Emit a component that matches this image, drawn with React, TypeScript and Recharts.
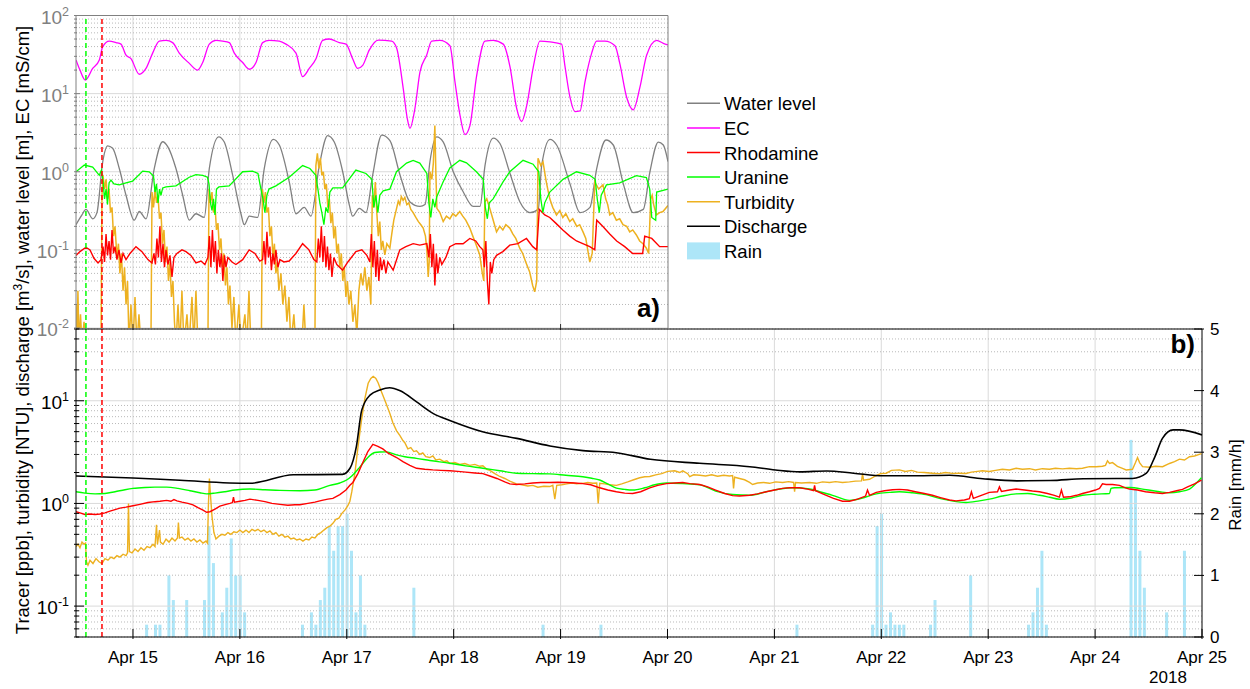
import React from "react";
import { ComposedChart, LineChart, Line, Bar, XAxis, YAxis, ReferenceLine } from "recharts";

const FONT = '"Liberation Sans", Arial, Helvetica, sans-serif';

type Pt = [number, number];

// ---------- axes ----------
const dayTicksA = [15, 16, 17, 18, 19];
const dayTicksB = [15, 16, 17, 18, 19, 20, 21, 22, 23, 24, 25];
const dayLabelsB = ["Apr 15", "Apr 16", "Apr 17", "Apr 18", "Apr 19", "Apr 20", "Apr 21", "Apr 22", "Apr 23", "Apr 24", "Apr 25"];
const gridDaysB = [15, 16, 17, 18, 19, 20, 21, 22, 23, 24];
const logMajorA = [0.01, 0.1, 1, 10, 100];
const logExpA = ["-2", "-1", "0", "1", "2"];
const logMinorA = [0.02, 0.03, 0.04, 0.05, 0.06, 0.07, 0.08, 0.09, 0.2, 0.3, 0.4, 0.5, 0.6, 0.7, 0.8, 0.9, 2, 3, 4, 5, 6, 7, 8, 9, 20, 30, 40, 50, 60, 70, 80, 90];
const logMajorB = [0.1, 1, 10];
const logExpB = ["-1", "0", "1"];
const logMinorB = [0.05, 0.06, 0.07, 0.08, 0.09, 0.2, 0.3, 0.4, 0.5, 0.6, 0.7, 0.8, 0.9, 2, 3, 4, 5, 6, 7, 8, 9, 20, 30, 40, 50];
const rainTicks = [0, 1, 2, 3, 4, 5];
const uranineInjection = 14.56;
const rhodamineInjection = 14.71;

// ---------- panel a ----------
const waterLevelA: Pt[] = [
  [14.467, 0.21], [14.523, 0.28], [14.56, 0.33], [14.623, 0.25], [14.663, 0.3], [14.717, 1.34], [14.763, 2.15], [14.81, 2.0],
  [14.872, 1.1], [14.935, 0.5], [15.012, 0.24], [15.059, 0.31], [15.122, 0.25], [15.199, 1.1], [15.278, 2.42], [15.325, 2.1],
  [15.402, 1.1], [15.465, 0.5], [15.527, 0.24], [15.589, 0.29], [15.667, 0.26], [15.714, 1.1], [15.802, 2.8], [15.854, 2.4],
  [15.933, 0.9], [16.01, 0.29], [16.041, 0.21], [16.088, 0.27], [16.166, 0.26], [16.228, 1.1], [16.312, 2.6], [16.369, 2.2],
  [16.462, 0.74], [16.525, 0.29], [16.602, 0.35], [16.665, 0.27], [16.743, 1.2], [16.821, 2.9], [16.883, 2.4], [16.962, 1.0],
  [17.023, 0.38], [17.055, 0.27], [17.117, 0.34], [17.18, 0.3], [17.242, 0.9], [17.327, 2.95], [17.404, 2.5], [17.498, 0.91],
  [17.591, 0.41], [17.685, 0.36], [17.732, 0.38], [17.778, 1.35], [17.841, 2.8], [17.903, 2.4], [17.996, 1.0], [18.09, 0.55],
  [18.183, 0.36], [18.246, 0.36], [18.293, 1.2], [18.37, 2.7], [18.433, 2.3], [18.527, 0.95], [18.62, 0.41], [18.714, 0.3],
  [18.791, 0.33], [18.823, 1.2], [18.901, 2.6], [18.963, 2.2], [19.088, 0.7], [19.182, 0.3], [19.275, 0.35], [19.338, 1.1],
  [19.425, 2.55], [19.493, 2.2], [19.587, 0.7], [19.68, 0.3], [19.774, 0.33], [19.836, 1.0], [19.914, 2.4], [19.961, 2.2], [20.005, 1.35],
];

const ecA: Pt[] = [
  [14.467, 27], [14.504, 20], [14.554, 14.9], [14.623, 21], [14.685, 27], [14.717, 40], [14.778, 47], [14.841, 45], [14.888, 43],
  [14.935, 31], [14.981, 28], [15.059, 17.7], [15.122, 21], [15.184, 33], [15.246, 47], [15.309, 48], [15.371, 45], [15.433, 33],
  [15.527, 24.4], [15.605, 20], [15.652, 25], [15.714, 43], [15.776, 48], [15.839, 47], [15.901, 45], [15.948, 33], [16.026, 25],
  [16.088, 20.5], [16.151, 25], [16.213, 45], [16.275, 48], [16.369, 47], [16.431, 43], [16.525, 33], [16.587, 16.5], [16.649, 21],
  [16.712, 28], [16.774, 48], [16.836, 50], [16.93, 45], [16.993, 43], [17.055, 28], [17.102, 21], [17.149, 23], [17.21, 36],
  [17.295, 48.5], [17.42, 47], [17.467, 38], [17.528, 11.7], [17.566, 4.8], [17.591, 3.6], [17.638, 6.5], [17.685, 19], [17.747, 31],
  [17.794, 47], [17.872, 48], [17.965, 41], [18.012, 14.2], [18.059, 5.3], [18.106, 3.0], [18.152, 3.9], [18.215, 17], [18.293, 47],
  [18.37, 48], [18.464, 43], [18.527, 22], [18.589, 6.5], [18.636, 4.4], [18.683, 7], [18.745, 22], [18.807, 47], [18.901, 46],
  [19.01, 43], [19.04, 23], [19.088, 9], [19.134, 5.9], [19.182, 6.0], [19.228, 14], [19.291, 33], [19.338, 47], [19.415, 47],
  [19.509, 41], [19.555, 24], [19.618, 9], [19.68, 6.2], [19.742, 12], [19.805, 31], [19.899, 48], [19.961, 44], [20.005, 42],
];

const rhodamineA: Pt[] = [
  [14.467, 0.085], [14.504, 0.095], [14.56, 0.108], [14.598, 0.1], [14.635, 0.078], [14.673, 0.068], [14.701, 0.075], [14.72, 0.11],
  [14.734, 0.07], [14.748, 0.16], [14.762, 0.085], [14.776, 0.13], [14.79, 0.075], [14.804, 0.18], [14.818, 0.09], [14.832, 0.11],
  [14.85, 0.075], [14.869, 0.1], [14.888, 0.068], [14.907, 0.09], [14.935, 0.075], [14.972, 0.09], [15.028, 0.11], [15.084, 0.095],
  [15.14, 0.075], [15.178, 0.068], [15.196, 0.09], [15.21, 0.065], [15.224, 0.14], [15.238, 0.08], [15.252, 0.2], [15.266, 0.07],
  [15.281, 0.12], [15.295, 0.06], [15.309, 0.1], [15.327, 0.065], [15.346, 0.085], [15.365, 0.045], [15.383, 0.08], [15.411, 0.09],
  [15.458, 0.1], [15.496, 0.095], [15.542, 0.085], [15.589, 0.068], [15.636, 0.072], [15.673, 0.065], [15.701, 0.08], [15.715, 0.15],
  [15.729, 0.06], [15.743, 0.18], [15.757, 0.07], [15.771, 0.13], [15.785, 0.05], [15.799, 0.1], [15.813, 0.06], [15.827, 0.09],
  [15.841, 0.04], [15.856, 0.085], [15.87, 0.06], [15.888, 0.08], [15.926, 0.07], [15.963, 0.065], [16.026, 0.075], [16.087, 0.1],
  [16.141, 0.09], [16.187, 0.072], [16.213, 0.075], [16.225, 0.13], [16.239, 0.065], [16.253, 0.17], [16.267, 0.08], [16.281, 0.11],
  [16.295, 0.055], [16.309, 0.09], [16.323, 0.065], [16.337, 0.1], [16.356, 0.06], [16.374, 0.075], [16.412, 0.07], [16.461, 0.072],
  [16.524, 0.09], [16.587, 0.12], [16.646, 0.1], [16.692, 0.075], [16.72, 0.07], [16.734, 0.14], [16.748, 0.08], [16.762, 0.2],
  [16.777, 0.07], [16.791, 0.15], [16.805, 0.06], [16.819, 0.11], [16.833, 0.055], [16.847, 0.09], [16.861, 0.045], [16.879, 0.08],
  [16.907, 0.065], [16.961, 0.055], [17.01, 0.07], [17.085, 0.095], [17.141, 0.1], [17.188, 0.085], [17.216, 0.07], [17.23, 0.16],
  [17.244, 0.06], [17.258, 0.13], [17.272, 0.045], [17.286, 0.1], [17.3, 0.04], [17.314, 0.08], [17.328, 0.055], [17.347, 0.075],
  [17.366, 0.05], [17.384, 0.07], [17.434, 0.055], [17.496, 0.1], [17.553, 0.11], [17.621, 0.12], [17.683, 0.115], [17.749, 0.12],
  [17.768, 0.08], [17.782, 0.16], [17.796, 0.06], [17.81, 0.12], [17.824, 0.035], [17.838, 0.09], [17.852, 0.05], [17.87, 0.08],
  [17.889, 0.065], [17.927, 0.08], [17.964, 0.11], [18.02, 0.12], [18.088, 0.12], [18.151, 0.14], [18.207, 0.13], [18.244, 0.11],
  [18.273, 0.1], [18.287, 0.06], [18.301, 0.13], [18.315, 0.04], [18.329, 0.02], [18.343, 0.07], [18.357, 0.05], [18.375, 0.075],
  [18.401, 0.085], [18.46, 0.095], [18.525, 0.115], [18.6, 0.12], [18.681, 0.14], [18.74, 0.11], [18.777, 0.1], [18.801, 0.33],
  [18.852, 0.28], [18.899, 0.26], [18.955, 0.22], [19.021, 0.18], [19.086, 0.15], [19.149, 0.13], [19.208, 0.12], [19.273, 0.11],
  [19.32, 0.1], [19.338, 0.24], [19.394, 0.2], [19.46, 0.16], [19.525, 0.13], [19.6, 0.11], [19.675, 0.09], [19.768, 0.09],
  [19.787, 0.15], [19.853, 0.14], [19.927, 0.11], [20.005, 0.11],
];

const uranineA: Pt[] = [
  [14.467, 1.0], [14.545, 1.22], [14.623, 1.15], [14.685, 0.9], [14.705, 1.05], [14.72, 0.75], [14.734, 0.45], [14.748, 0.6],
  [14.762, 0.38], [14.776, 0.72], [14.794, 0.78], [14.822, 0.7], [14.872, 0.68], [14.935, 0.72], [14.997, 0.76], [15.091, 1.02],
  [15.152, 1.0], [15.192, 0.88], [15.206, 0.55], [15.22, 0.7], [15.234, 0.4], [15.248, 0.6], [15.262, 0.5], [15.278, 0.62],
  [15.309, 0.64], [15.402, 0.66], [15.526, 0.85], [15.589, 0.92], [15.652, 0.9], [15.697, 0.85], [15.711, 0.7], [15.725, 0.4],
  [15.739, 0.32], [15.753, 0.45], [15.767, 0.28], [15.781, 0.6], [15.804, 0.64], [15.9, 0.66], [16.026, 1.0], [16.119, 1.02],
  [16.169, 0.95], [16.197, 0.6], [16.216, 0.45], [16.234, 0.3], [16.253, 0.5], [16.272, 0.6], [16.337, 0.66], [16.461, 0.85],
  [16.587, 1.2], [16.655, 1.1], [16.711, 0.9], [16.73, 0.6], [16.748, 0.4], [16.767, 0.3], [16.786, 0.21], [16.805, 0.35],
  [16.823, 0.3], [16.842, 0.55], [16.87, 0.62], [16.961, 0.62], [17.085, 1.05], [17.179, 0.95], [17.235, 0.8], [17.253, 0.35],
  [17.272, 0.5], [17.291, 0.3], [17.309, 0.5], [17.34, 0.57], [17.403, 0.6], [17.465, 1.0], [17.559, 1.29], [17.621, 1.4],
  [17.683, 1.29], [17.749, 0.95], [17.768, 0.4], [17.786, 0.26], [17.805, 0.45], [17.824, 0.35], [17.842, 0.48], [17.901, 0.74],
  [17.964, 1.12], [18.057, 1.4], [18.12, 1.3], [18.213, 1.0], [18.277, 0.8], [18.296, 0.35], [18.315, 0.25], [18.333, 0.4],
  [18.369, 0.45], [18.462, 0.74], [18.525, 1.0], [18.649, 1.4], [18.743, 1.25], [18.796, 1.0], [18.815, 0.45], [18.834, 0.3],
  [18.852, 0.4], [18.899, 0.55], [19.023, 0.8], [19.149, 1.0], [19.273, 0.9], [19.324, 0.8], [19.343, 0.45], [19.362, 0.3],
  [19.38, 0.5], [19.429, 0.68], [19.553, 0.72], [19.709, 0.89], [19.803, 0.84], [19.834, 0.6], [19.853, 0.26], [19.89, 0.24],
  [19.899, 0.55], [20.005, 0.6],
];

const turbidityA: Pt[] = [
  [14.467, 0.02], [14.476, 0.006], [14.485, 0.03], [14.495, 0.006], [14.509, 0.015], [14.523, 0.006], [14.542, 0.012], [14.56, 0.006],
  [14.701, 0.006], [14.71, 0.5], [14.72, 0.9], [14.734, 0.6], [14.748, 0.8], [14.762, 0.45], [14.776, 0.6], [14.79, 0.3],
  [14.804, 0.35], [14.818, 0.15], [14.832, 0.2], [14.85, 0.08], [14.864, 0.12], [14.878, 0.05], [14.892, 0.09], [14.907, 0.03],
  [14.921, 0.06], [14.935, 0.02], [14.949, 0.04], [14.963, 0.006], [14.981, 0.02], [15.0, 0.006], [15.019, 0.025], [15.037, 0.006],
  [15.056, 0.015], [15.075, 0.006], [15.168, 0.006], [15.178, 0.55], [15.192, 0.35], [15.206, 0.6], [15.22, 0.4], [15.234, 0.5],
  [15.248, 0.25], [15.262, 0.3], [15.276, 0.12], [15.29, 0.18], [15.304, 0.07], [15.318, 0.11], [15.332, 0.04], [15.346, 0.07],
  [15.36, 0.025], [15.374, 0.04], [15.388, 0.012], [15.402, 0.006], [15.421, 0.02], [15.439, 0.006], [15.458, 0.03], [15.477, 0.006],
  [15.505, 0.015], [15.524, 0.006], [15.552, 0.025], [15.57, 0.006], [15.589, 0.03], [15.608, 0.006], [15.701, 0.006], [15.711, 0.6],
  [15.725, 0.4], [15.739, 0.55], [15.753, 0.3], [15.767, 0.38], [15.781, 0.18], [15.795, 0.22], [15.809, 0.1], [15.823, 0.14],
  [15.837, 0.06], [15.851, 0.09], [15.865, 0.035], [15.879, 0.06], [15.893, 0.02], [15.907, 0.035], [15.926, 0.01], [15.944, 0.025],
  [15.963, 0.006], [15.991, 0.02], [16.01, 0.006], [16.047, 0.015], [16.066, 0.006], [16.085, 0.03], [16.103, 0.006], [16.201, 0.006],
  [16.211, 0.6], [16.225, 0.4], [16.239, 0.55], [16.253, 0.3], [16.267, 0.35], [16.281, 0.15], [16.295, 0.2], [16.309, 0.08],
  [16.323, 0.12], [16.337, 0.05], [16.351, 0.07], [16.365, 0.03], [16.384, 0.05], [16.402, 0.02], [16.421, 0.035], [16.44, 0.012],
  [16.459, 0.025], [16.477, 0.006], [16.505, 0.015], [16.524, 0.006], [16.58, 0.006], [16.599, 0.02], [16.618, 0.006], [16.702, 0.006],
  [16.711, 1.2], [16.725, 1.72], [16.739, 1.1], [16.753, 1.5], [16.767, 0.9], [16.781, 1.0], [16.795, 0.6], [16.809, 0.7],
  [16.823, 0.35], [16.837, 0.45], [16.851, 0.22], [16.865, 0.3], [16.879, 0.14], [16.893, 0.2], [16.907, 0.09], [16.921, 0.12],
  [16.935, 0.06], [16.949, 0.09], [16.963, 0.04], [16.977, 0.06], [16.992, 0.025], [17.006, 0.04], [17.02, 0.02], [17.038, 0.03],
  [17.057, 0.012], [17.076, 0.02], [17.094, 0.008], [17.113, 0.03], [17.132, 0.05], [17.15, 0.035], [17.169, 0.06], [17.188, 0.03],
  [17.207, 0.045], [17.225, 0.02], [17.239, 0.5], [17.253, 0.35], [17.267, 0.74], [17.281, 0.3], [17.295, 0.15], [17.309, 0.23],
  [17.323, 0.1], [17.337, 0.13], [17.356, 0.086], [17.375, 0.12], [17.403, 0.105], [17.421, 0.16], [17.44, 0.24], [17.466, 0.34],
  [17.482, 0.42], [17.496, 0.38], [17.51, 0.48], [17.527, 0.43], [17.543, 0.47], [17.562, 0.38], [17.58, 0.4], [17.599, 0.33],
  [17.621, 0.3], [17.646, 0.26], [17.67, 0.23], [17.693, 0.21], [17.715, 0.19], [17.736, 0.15], [17.749, 0.1], [17.762, 0.045],
  [17.771, 0.07], [17.778, 1.0], [17.796, 0.8], [17.81, 1.3], [17.824, 3.9], [17.834, 0.9], [17.843, 0.34], [17.871, 0.3],
  [17.902, 0.23], [17.932, 0.27], [17.964, 0.25], [17.992, 0.29], [18.02, 0.27], [18.057, 0.31], [18.085, 0.27], [18.113, 0.24],
  [18.151, 0.19], [18.179, 0.15], [18.207, 0.12], [18.244, 0.086], [18.268, 0.05], [18.282, 0.04], [18.291, 0.41], [18.31, 0.45],
  [18.338, 0.34], [18.366, 0.25], [18.401, 0.17], [18.431, 0.2], [18.46, 0.18], [18.488, 0.21], [18.525, 0.19], [18.553, 0.16],
  [18.581, 0.14], [18.618, 0.105], [18.646, 0.09], [18.674, 0.07], [18.711, 0.052], [18.739, 0.035], [18.758, 0.029], [18.777, 0.04],
  [18.789, 1.49], [18.815, 1.2], [18.836, 1.34], [18.862, 0.8], [18.88, 0.6], [18.899, 0.45], [18.927, 0.35], [18.962, 0.28],
  [18.993, 0.32], [19.021, 0.26], [19.049, 0.29], [19.086, 0.23], [19.114, 0.25], [19.152, 0.2], [19.179, 0.21], [19.21, 0.17],
  [19.236, 0.14], [19.254, 0.1], [19.273, 0.07], [19.296, 0.09], [19.32, 0.74], [19.357, 0.6], [19.397, 0.68], [19.422, 0.45],
  [19.441, 0.38], [19.46, 0.28], [19.488, 0.3], [19.522, 0.24], [19.553, 0.25], [19.584, 0.21], [19.619, 0.2], [19.647, 0.17],
  [19.675, 0.18], [19.709, 0.155], [19.74, 0.13], [19.771, 0.12], [19.803, 0.105], [19.824, 0.09], [19.843, 0.45], [19.857, 0.5],
  [19.871, 0.38], [19.896, 0.28], [19.927, 0.3], [19.958, 0.31], [20.005, 0.37],
];

// ---------- panel b ----------
const dischargeB: Pt[] = [
  [14.467, 1.85], [15.0, 1.77], [15.44, 1.68], [16.09, 1.57], [16.5, 1.9], [16.96, 1.92], [17.03, 2.2], [17.09, 3.6], [17.14, 8.1],
  [17.22, 11.4], [17.31, 12.7], [17.4, 13.4], [17.5, 12.5], [17.65, 9.8], [17.81, 7.5], [17.97, 6.4], [18.27, 5.0], [18.59, 4.3],
  [18.9, 3.63], [19.21, 3.27], [19.52, 3.12], [19.84, 2.69], [20.3, 2.46], [20.77, 2.28], [21.01, 2.12], [21.24, 2.03], [21.49, 2.07],
  [21.74, 1.97], [22.02, 1.86], [22.33, 1.86], [22.64, 1.88], [22.95, 1.74], [23.27, 1.66], [23.58, 1.67], [23.89, 1.74],
  [24.2, 1.75], [24.35, 1.75], [24.48, 1.97], [24.56, 2.86], [24.63, 4.3], [24.73, 5.2], [24.79, 5.2], [25.0, 4.65],
];

const uranineB: Pt[] = [
  [14.467, 1.3], [14.551, 1.26], [14.645, 1.24], [14.738, 1.25], [14.832, 1.3], [14.925, 1.36], [15.0, 1.4], [15.112, 1.43],
  [15.206, 1.44], [15.315, 1.44], [15.421, 1.4], [15.533, 1.33], [15.626, 1.27], [15.689, 1.24], [15.767, 1.26], [15.86, 1.3],
  [15.954, 1.35], [16.094, 1.38], [16.234, 1.36], [16.374, 1.34], [16.561, 1.33], [16.702, 1.35], [16.842, 1.5], [16.935, 1.58],
  [16.998, 1.69], [17.047, 1.85], [17.104, 2.15], [17.15, 2.46], [17.197, 2.8], [17.262, 3.13], [17.309, 3.17], [17.372, 3.18],
  [17.466, 2.97], [17.543, 2.85], [17.652, 2.75], [17.777, 2.62], [17.964, 2.46], [18.113, 2.32], [18.273, 2.2], [18.431, 2.08],
  [18.587, 1.97], [18.74, 1.95], [18.899, 1.94], [19.049, 1.88], [19.208, 1.82], [19.292, 1.76], [19.366, 1.69], [19.441, 1.55],
  [19.522, 1.41], [19.6, 1.37], [19.675, 1.35], [19.787, 1.42], [19.881, 1.52], [19.99, 1.58], [20.143, 1.56], [20.301, 1.52],
  [20.45, 1.32], [20.609, 1.22], [20.768, 1.2], [20.924, 1.3], [21.049, 1.38], [21.17, 1.42], [21.329, 1.38], [21.423, 1.3],
  [21.544, 1.2], [21.703, 1.07], [21.815, 1.12], [21.953, 1.24], [22.077, 1.28], [22.17, 1.3], [22.291, 1.27], [22.419, 1.22],
  [22.543, 1.12], [22.637, 1.07], [22.793, 1.02], [22.918, 1.06], [23.011, 1.1], [23.133, 1.18], [23.261, 1.24], [23.367, 1.25],
  [23.479, 1.2], [23.573, 1.15], [23.666, 1.1], [23.778, 1.13], [23.882, 1.2], [23.994, 1.23], [24.135, 1.25], [24.149, 1.4],
  [24.182, 1.42], [24.322, 1.43], [24.478, 1.36], [24.603, 1.3], [24.696, 1.27], [24.79, 1.3], [24.883, 1.38], [24.939, 1.55], [24.995, 1.78],
];

const rhodamineB: Pt[] = [
  [14.467, 0.83], [14.504, 0.81], [14.551, 0.78], [14.598, 0.79], [14.645, 0.78], [14.691, 0.79], [14.738, 0.81], [14.785, 0.84],
  [14.832, 0.87], [14.878, 0.9], [14.935, 0.92], [15.0, 0.95], [15.065, 0.98], [15.14, 1.02], [15.206, 1.04], [15.252, 1.05],
  [15.315, 1.07], [15.355, 1.05], [15.383, 1.09], [15.411, 1.06], [15.458, 1.03], [15.514, 1.0], [15.561, 0.97], [15.608, 0.91],
  [15.655, 0.86], [15.689, 0.82], [15.72, 0.83], [15.767, 0.88], [15.813, 0.94], [15.87, 0.98], [15.907, 1.0], [15.93, 1.02],
  [15.94, 1.15], [15.949, 1.03], [16.0, 1.05], [16.047, 1.07], [16.094, 1.1], [16.169, 1.07], [16.234, 1.04], [16.3, 1.0],
  [16.374, 0.98], [16.449, 0.96], [16.515, 0.97], [16.561, 0.97], [16.636, 1.0], [16.702, 1.03], [16.767, 1.07], [16.823, 1.1],
  [16.87, 1.12], [16.935, 1.22], [16.992, 1.35], [17.029, 1.5], [17.057, 1.6], [17.104, 1.95], [17.15, 2.5], [17.197, 3.2],
  [17.244, 3.76], [17.291, 3.6], [17.337, 3.4], [17.384, 3.1], [17.422, 2.95], [17.466, 2.8], [17.525, 2.55], [17.59, 2.35],
  [17.652, 2.2], [17.73, 2.15], [17.805, 2.12], [17.88, 2.1], [17.964, 2.08], [18.039, 2.05], [18.113, 2.02], [18.198, 1.98],
  [18.273, 1.95], [18.338, 1.85], [18.404, 1.75], [18.478, 1.62], [18.525, 1.55], [18.587, 1.53], [18.665, 1.55], [18.74, 1.58],
  [18.815, 1.6], [18.899, 1.6], [18.974, 1.61], [19.049, 1.6], [19.133, 1.58], [19.208, 1.56], [19.282, 1.52], [19.366, 1.42],
  [19.441, 1.35], [19.522, 1.3], [19.6, 1.26], [19.675, 1.25], [19.749, 1.3], [19.834, 1.42], [19.909, 1.5], [19.99, 1.56],
  [20.068, 1.58], [20.143, 1.6], [20.208, 1.56], [20.301, 1.53], [20.376, 1.45], [20.45, 1.35], [20.535, 1.25], [20.609, 1.19],
  [20.674, 1.18], [20.768, 1.2], [20.843, 1.24], [20.924, 1.3], [21.002, 1.35], [21.077, 1.4], [21.142, 1.42], [21.236, 1.42],
  [21.311, 1.38], [21.367, 1.33], [21.376, 1.5], [21.385, 1.33], [21.469, 1.22], [21.553, 1.12], [21.637, 1.05], [21.703, 1.05],
  [21.778, 1.1], [21.853, 1.18], [21.871, 1.35], [21.89, 1.2], [21.953, 1.28], [22.03, 1.33], [22.105, 1.36], [22.17, 1.37],
  [22.245, 1.35], [22.319, 1.3], [22.403, 1.25], [22.478, 1.2], [22.553, 1.14], [22.637, 1.08], [22.699, 1.06], [22.777, 1.08],
  [22.824, 1.11], [22.843, 1.3], [22.861, 1.12], [22.936, 1.2], [23.011, 1.28], [23.087, 1.3], [23.105, 1.45], [23.124, 1.31],
  [23.199, 1.35], [23.261, 1.38], [23.339, 1.35], [23.414, 1.32], [23.479, 1.3], [23.554, 1.25], [23.619, 1.2], [23.666, 1.15],
  [23.685, 1.35], [23.704, 1.15], [23.76, 1.16], [23.826, 1.2], [23.882, 1.25], [23.947, 1.3], [24.003, 1.35], [24.041, 1.4],
  [24.069, 1.55], [24.103, 1.53], [24.163, 1.53], [24.228, 1.5], [24.284, 1.42], [24.322, 1.38], [24.397, 1.35], [24.472, 1.3],
  [24.556, 1.27], [24.631, 1.25], [24.696, 1.28], [24.762, 1.33], [24.818, 1.37], [24.865, 1.45], [24.93, 1.55], [24.995, 1.69],
];

const turbidityB: Pt[] = [
  [14.467, 0.38], [14.486, 0.4], [14.504, 0.37], [14.523, 0.42], [14.542, 0.4], [14.556, 0.41], [14.565, 0.27], [14.579, 0.25],
  [14.598, 0.28], [14.626, 0.26], [14.654, 0.29], [14.682, 0.27], [14.71, 0.26], [14.738, 0.29], [14.766, 0.28], [14.794, 0.3],
  [14.822, 0.29], [14.85, 0.31], [14.878, 0.3], [14.907, 0.32], [14.935, 0.31], [14.949, 0.33], [14.958, 1.0], [14.967, 0.34],
  [14.991, 0.33], [15.019, 0.36], [15.047, 0.34], [15.075, 0.37], [15.103, 0.35], [15.131, 0.38], [15.159, 0.37], [15.187, 0.4],
  [15.206, 0.38], [15.22, 0.62], [15.229, 0.4], [15.248, 0.55], [15.257, 0.42], [15.281, 0.4], [15.309, 0.45], [15.337, 0.42],
  [15.365, 0.46], [15.393, 0.43], [15.416, 0.46], [15.425, 0.65], [15.435, 0.46], [15.458, 0.47], [15.486, 0.44], [15.514, 0.46],
  [15.542, 0.43], [15.57, 0.45], [15.598, 0.42], [15.626, 0.44], [15.655, 0.41], [15.683, 0.43], [15.697, 0.41], [15.706, 1.0],
  [15.715, 1.75], [15.725, 1.2], [15.739, 0.75], [15.757, 0.52], [15.776, 0.45], [15.804, 0.48], [15.832, 0.5], [15.86, 0.49],
  [15.888, 0.52], [15.916, 0.5], [15.944, 0.53], [15.972, 0.52], [16.0, 0.55], [16.028, 0.52], [16.057, 0.55], [16.085, 0.52],
  [16.113, 0.56], [16.141, 0.54], [16.169, 0.56], [16.197, 0.53], [16.225, 0.55], [16.253, 0.52], [16.281, 0.54], [16.309, 0.5],
  [16.337, 0.52], [16.365, 0.48], [16.393, 0.5], [16.421, 0.47], [16.449, 0.48], [16.477, 0.45], [16.505, 0.46], [16.533, 0.44],
  [16.561, 0.45], [16.59, 0.43], [16.618, 0.45], [16.646, 0.44], [16.674, 0.47], [16.702, 0.46], [16.73, 0.5], [16.758, 0.52],
  [16.786, 0.55], [16.814, 0.58], [16.842, 0.6], [16.87, 0.64], [16.898, 0.7], [16.926, 0.72], [16.954, 0.8], [16.982, 0.86],
  [17.01, 0.95], [17.029, 1.05], [17.047, 1.3], [17.076, 1.97], [17.104, 3.5], [17.138, 6.5], [17.169, 10.5], [17.2, 14.8],
  [17.225, 16.5], [17.247, 17.3], [17.272, 16.5], [17.293, 15], [17.328, 12], [17.366, 9.5], [17.403, 7.5], [17.431, 6.1],
  [17.466, 5.1], [17.496, 4.6], [17.525, 4.1], [17.543, 3.9], [17.571, 3.4], [17.599, 3.5], [17.627, 3.2], [17.652, 3.25],
  [17.683, 3.0], [17.711, 3.1], [17.739, 2.85], [17.777, 2.8], [17.805, 2.9], [17.833, 2.65], [17.87, 2.7], [17.908, 2.55],
  [17.936, 2.6], [17.964, 2.45], [18.011, 2.5], [18.057, 2.4], [18.104, 2.45], [18.151, 2.35], [18.198, 2.4], [18.244, 2.3],
  [18.273, 2.33], [18.31, 2.15], [18.338, 2.1], [18.385, 1.95], [18.431, 1.83], [18.478, 1.75], [18.525, 1.65], [18.587, 1.55],
  [18.637, 1.52], [18.693, 1.48], [18.74, 1.5], [18.787, 1.44], [18.843, 1.47], [18.899, 1.46], [18.927, 1.5], [18.946, 1.1],
  [18.964, 1.5], [19.011, 1.52], [19.058, 1.55], [19.105, 1.58], [19.151, 1.55], [19.208, 1.57], [19.254, 1.6], [19.301, 1.57],
  [19.338, 1.58], [19.352, 1.0], [19.366, 1.57], [19.413, 1.55], [19.46, 1.52], [19.522, 1.5], [19.572, 1.55], [19.628, 1.62],
  [19.684, 1.7], [19.74, 1.78], [19.787, 1.82], [19.834, 1.83], [19.89, 1.9], [19.946, 1.95], [20.002, 2.05], [20.068, 2.08],
  [20.114, 2.0], [20.143, 2.08], [20.189, 1.95], [20.208, 1.82], [20.245, 1.9], [20.301, 1.88], [20.357, 1.85], [20.413, 1.9],
  [20.469, 1.84], [20.525, 1.88], [20.581, 1.85], [20.609, 1.87], [20.618, 1.4], [20.628, 1.8], [20.674, 1.75], [20.721, 1.7],
  [20.768, 1.6], [20.796, 1.53], [20.843, 1.58], [20.899, 1.6], [20.955, 1.57], [21.011, 1.62], [21.077, 1.6], [21.133, 1.63],
  [21.18, 1.6], [21.189, 1.3], [21.198, 1.6], [21.254, 1.58], [21.329, 1.6], [21.392, 1.57], [21.45, 1.62], [21.516, 1.6],
  [21.572, 1.63], [21.637, 1.6], [21.703, 1.62], [21.759, 1.65], [21.815, 1.66], [21.825, 1.95], [21.834, 1.68], [21.89, 1.72],
  [21.946, 1.85], [21.993, 1.95], [22.046, 1.97], [22.095, 2.1], [22.17, 2.12], [22.226, 2.05], [22.282, 2.1], [22.338, 2.02],
  [22.403, 2.0], [22.478, 1.97], [22.543, 1.95], [22.6, 2.0], [22.665, 1.96], [22.731, 1.97], [22.793, 1.96], [22.843, 2.02],
  [22.899, 2.05], [22.946, 2.08], [23.011, 2.05], [23.068, 2.1], [23.133, 2.15], [23.199, 2.12], [23.261, 2.2], [23.32, 2.15],
  [23.386, 2.18], [23.442, 2.12], [23.507, 2.18], [23.573, 2.15], [23.629, 2.2], [23.695, 2.17], [23.76, 2.2], [23.826, 2.18],
  [23.882, 2.2], [23.947, 2.28], [24.01, 2.28], [24.069, 2.3], [24.097, 2.35], [24.116, 2.6], [24.135, 2.45], [24.163, 2.5],
  [24.209, 2.3], [24.256, 2.2], [24.291, 2.12], [24.35, 2.15], [24.378, 2.5], [24.397, 2.8], [24.416, 2.5], [24.444, 2.28],
  [24.509, 2.25], [24.565, 2.3], [24.631, 2.28], [24.696, 2.45], [24.743, 2.55], [24.79, 2.7], [24.836, 2.65], [24.883, 2.85],
  [24.93, 2.9], [24.995, 3.05],
];

// hourly rain: hours after Apr 15 00:00, and intensity in mm/h
const rainHours = [3, 5, 6, 8, 9, 12, 16, 17, 18, 20, 21, 22, 23, 24, 25, 38, 40, 41, 42, 43, 44, 45, 46, 47, 48, 49, 50, 51, 52, 63, 92, 105,
  149, 166, 167, 168, 169, 170, 171, 172, 173, 179, 180, 188, 201, 202, 203, 204, 205, 224, 225, 226, 227, 232, 236];
const rainMm = [0.2, 0.2, 0.2, 1.0, 0.6, 0.6, 0.6, 1.8, 1.2, 0.4, 0.8, 1.6, 1.0, 1.0, 0.4, 0.2, 0.4, 0.2, 0.6, 0.8, 1.8, 1.4, 1.8, 1.8, 2.0, 1.4, 0.4, 1.0, 0.2, 0.8, 0.2, 0.2,
  0.2, 0.2, 1.8, 2.0, 0.2, 0.4, 0.2, 0.2, 0.2, 0.2, 0.6, 1.0, 0.2, 0.4, 0.8, 1.4, 0.2, 3.2, 2.4, 1.4, 0.8, 0.4, 1.4];

const COLORS = {
  water: "#808080",
  ec: "#ff00ff",
  rhodamine: "#ff0000",
  uranine: "#00ff00",
  turbidity: "#edb120",
  discharge: "#000000",
  rain: "#ade6f8",
};

const legendItems = [
  { name: "Water level", color: COLORS.water, kind: "line" },
  { name: "EC", color: COLORS.ec, kind: "line" },
  { name: "Rhodamine", color: COLORS.rhodamine, kind: "line" },
  { name: "Uranine", color: COLORS.uranine, kind: "line" },
  { name: "Turbidity", color: COLORS.turbidity, kind: "line" },
  { name: "Discharge", color: COLORS.discharge, kind: "line" },
  { name: "Rain", color: COLORS.rain, kind: "patch" },
];

const rows = (a: Pt[]) => a.map(([t, v]) => ({ t, v }));
const rainData = rainHours.map((h, i) => ({ t: 15 + h / 24, rain: rainMm[i] }));

const GRAY = "#808080";
const MAJOR_GRID = "#dadada";
const MINOR_GRID = "#b9b9b9";
const DOMAIN_A: [number, number] = [14.467, 20.005];
const DOMAIN_B: [number, number] = [14.467, 25];

function logTick(majors: number[], exps: string[], color: string, labelColor: string, majorLen: number, minorLen: number) {
  return (p: any) => {
    const i = majors.indexOf(p.payload.value);
    return (
      <g>
        <line x1={p.x} x2={p.x + (i >= 0 ? majorLen : minorLen)} y1={p.y} y2={p.y} stroke={color} strokeWidth={1} />
        {i >= 0 && (
          <text x={p.x - 5} y={p.y + 8} textAnchor="end" fontSize={19} fill={labelColor} fontFamily={FONT}>
            10<tspan dy={-8} fontSize={12.5}>{exps[i]}</tspan>
          </text>
        )}
      </g>
    );
  };
}

function xMarks(dir: number, len: number, color: string, labels?: string[], ticks?: number[]) {
  return (p: any) => (
    <g>
      <line x1={p.x} x2={p.x} y1={p.y} y2={p.y + dir * len} stroke={color} strokeWidth={1} />
      {labels && ticks && (
        <text x={p.x} y={p.y + 24} textAnchor="middle" fontSize={17} fill="#000" fontFamily={FONT}>
          {labels[ticks.indexOf(p.payload.value)]}
        </text>
      )}
    </g>
  );
}

const rainTick = (p: any) => (
  <g>
    <line x1={p.x - 10} x2={p.x} y1={p.y} y2={p.y} stroke="#000" strokeWidth={1} />
    <text x={p.x + 6} y={p.y + 6} fontSize={17} fill="#000" fontFamily={FONT}>
      {p.payload.value}
    </text>
  </g>
);

function gridLines(majors: number[], minors: number[], days: number[]) {
  return [
    ...days.map((d) => <ReferenceLine key={"d" + d} x={d} stroke={MAJOR_GRID} strokeWidth={1} />),
    ...minors.map((v) => <ReferenceLine key={"n" + v} y={v} stroke={MINOR_GRID} strokeDasharray="1 2" strokeWidth={1} />),
    ...majors.map((v) => <ReferenceLine key={"m" + v} y={v} stroke={MAJOR_GRID} strokeWidth={1} />),
  ];
}

// background layer of panel a: grid only
function GridA() {
  return (
    <LineChart width={680} height={340} margin={{ top: 15.5, right: 12, bottom: 12, left: 76 }}>
      <XAxis dataKey="t" type="number" domain={DOMAIN_A} allowDataOverflow hide />
      <YAxis type="number" scale="log" domain={[0.01, 100]} allowDataOverflow hide />
      {gridLines(logMajorA, logMinorA, dayTicksA)}
    </LineChart>
  );
}

function PanelA() {
  return (
    <LineChart width={680} height={340} margin={{ top: 14.5, right: 12, bottom: 11, left: 0 }}>
      <XAxis dataKey="t" type="number" domain={DOMAIN_A} allowDataOverflow ticks={dayTicksA} interval={0} height={1} tickSize={0}
        axisLine={false} tick={xMarks(-1, 6, "#333")} />
      <XAxis xAxisId="top" orientation="top" type="number" domain={DOMAIN_A} allowDataOverflow ticks={dayTicksA} interval={0} height={1}
        tickSize={0} axisLine={{ stroke: GRAY }} tick={xMarks(1, 6, GRAY)} />
      <YAxis type="number" scale="log" domain={[0.01, 100]} allowDataOverflow ticks={[...logMajorA, ...logMinorA]} interval={0}
        width={76} tickSize={0} axisLine={{ stroke: GRAY }} tick={logTick(logMajorA, logExpA, GRAY, GRAY, 6, 3)} />
      <Line data={rows(waterLevelA)} dataKey="v" type="monotone" stroke={COLORS.water} strokeWidth={1.3} dot={false} isAnimationActive={false} />
      <Line data={rows(ecA)} dataKey="v" type="monotone" stroke={COLORS.ec} strokeWidth={1.3} dot={false} isAnimationActive={false} />
      <Line data={rows(turbidityA)} dataKey="v" type="linear" stroke={COLORS.turbidity} strokeWidth={1.5} dot={false} isAnimationActive={false} />
      <Line data={rows(rhodamineA)} dataKey="v" type="linear" stroke={COLORS.rhodamine} strokeWidth={1.4} dot={false} isAnimationActive={false} />
      <Line data={rows(uranineA)} dataKey="v" type="linear" stroke={COLORS.uranine} strokeWidth={1.3} dot={false} isAnimationActive={false} />
      <ReferenceLine x={uranineInjection} stroke={COLORS.uranine} strokeDasharray="5 3" strokeWidth={1.5} />
      <ReferenceLine x={rhodamineInjection} stroke={COLORS.rhodamine} strokeDasharray="5 3" strokeWidth={1.5} />
      <ReferenceLine x={DOMAIN_A[1]} stroke={GRAY} strokeWidth={1} />
      <ReferenceLine y={100} stroke={GRAY} strokeWidth={1} />
    </LineChart>
  );
}

// background layer of panel b: grid, rain bars and the rain axis
function GridB() {
  return (
    <ComposedChart width={1250} height={369} data={rainData} margin={{ top: 9, right: 0, bottom: 52, left: 76 }}>
      <XAxis dataKey="t" type="number" domain={DOMAIN_B} allowDataOverflow hide />
      <YAxis type="number" scale="log" domain={[0.05, 50]} allowDataOverflow hide />
      <YAxis yAxisId="rain" orientation="right" type="number" domain={[0, 5]} ticks={rainTicks} interval={0} width={48} tickSize={0}
        axisLine={{ stroke: "#000" }} tick={rainTick} />
      {gridLines(logMajorB, logMinorB, gridDaysB)}
      <Bar yAxisId="rain" dataKey="rain" fill={COLORS.rain} barSize={3} isAnimationActive={false} />
    </ComposedChart>
  );
}

function PanelB() {
  return (
    <ComposedChart width={1250} height={369} margin={{ top: 8, right: 48, bottom: 22, left: 0 }}>
      <XAxis dataKey="t" type="number" domain={DOMAIN_B} allowDataOverflow ticks={dayTicksB} interval={0} height={30} tickSize={0}
        axisLine={{ stroke: "#000" }} tick={xMarks(-1, 10, "#000", dayLabelsB, dayTicksB)} />
      <XAxis xAxisId="top" orientation="top" type="number" domain={DOMAIN_B} allowDataOverflow ticks={dayTicksB} interval={0} height={1}
        tickSize={0} axisLine={{ stroke: "#000" }} tick={xMarks(1, 11, "#000")} />
      <YAxis type="number" scale="log" domain={[0.05, 50]} allowDataOverflow ticks={[...logMajorB, ...logMinorB]} interval={0}
        width={76} tickSize={0} axisLine={{ stroke: "#000" }} tick={logTick(logMajorB, logExpB, "#000", "#000", 10, 5)} />
      <Line data={rows(turbidityB)} dataKey="v" type="linear" stroke={COLORS.turbidity} strokeWidth={1.4} dot={false} isAnimationActive={false} />
      <Line data={rows(uranineB)} dataKey="v" type="monotone" stroke={COLORS.uranine} strokeWidth={1.4} dot={false} isAnimationActive={false} />
      <Line data={rows(rhodamineB)} dataKey="v" type="linear" stroke={COLORS.rhodamine} strokeWidth={1.4} dot={false} isAnimationActive={false} />
      <Line data={rows(dischargeB)} dataKey="v" type="monotone" stroke={COLORS.discharge} strokeWidth={1.6} dot={false} isAnimationActive={false} />
      <ReferenceLine x={uranineInjection} stroke={COLORS.uranine} strokeDasharray="5 3" strokeWidth={1.5} />
      <ReferenceLine x={rhodamineInjection} stroke={COLORS.rhodamine} strokeDasharray="5 3" strokeWidth={1.5} />
    </ComposedChart>
  );
}

export default function App() {
  const layer = (top: number): React.CSSProperties => ({ position: "absolute", left: 0, top });
  return (
    <div style={{ position: "absolute", left: 0, top: 0, width: 1250, height: 689, background: "#fff", fontFamily: FONT, overflow: "hidden" }}>
      <div style={layer(0)}><GridA /></div>
      <div style={layer(320)}><GridB /></div>
      <div style={layer(0)}><PanelA /></div>
      <div style={layer(320)}><PanelB /></div>
      <svg width={1250} height={689} style={{ position: "absolute", left: 0, top: 0, pointerEvents: "none" }} fontFamily={FONT}>
        <text transform="translate(29,330) rotate(-90)" textAnchor="middle" fontSize={18.5} fill="#000">
          Tracer [ppb], turbidity [NTU], discharge [m<tspan dy={-7} fontSize={12}>3</tspan>
          <tspan dy={7}>/s], water level [m], EC [mS/cm]</tspan>
        </text>
        <text transform="translate(1241,485) rotate(-90)" textAnchor="middle" fontSize={17} fill="#000">
          Rain [mm/h]
        </text>
        <text x={660} y={317} textAnchor="end" fontSize={26} fontWeight="bold" fill="#000">a)</text>
        <text x={1195} y={353} textAnchor="end" fontSize={26} fontWeight="bold" fill="#000">b)</text>
        <text x={1168} y={683} textAnchor="middle" fontSize={17} fill="#000">2018</text>
        {legendItems.map((it, i) => {
          const cy = 103.3 + i * 24.6;
          return (
            <g key={it.name}>
              {it.kind === "line" ? (
                <line x1={687} x2={720} y1={cy} y2={cy} stroke={it.color} strokeWidth={1.5} />
              ) : (
                <rect x={687} y={cy - 8.5} width={33} height={17} fill={it.color} />
              )}
              <text x={724} y={cy + 7} fontSize={18.5} fill="#000">{it.name}</text>
            </g>
          );
        })}
      </svg>
    </div>
  );
}
